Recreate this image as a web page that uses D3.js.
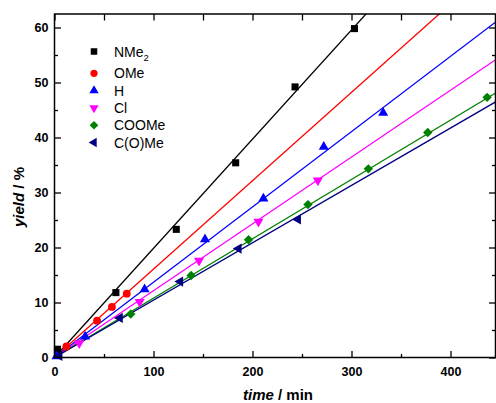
<!DOCTYPE html>
<html>
<head>
<meta charset="utf-8">
<script src="https://cdn.jsdelivr.net/npm/d3@7"></script>
<style>
  body { margin: 0; background: #fff; }
  svg { display: block; font-family: "Liberation Sans", Arial, sans-serif; }
  .axis text { font-size: 12.5px; font-weight: bold; fill: #000; }
  .axis line { stroke: #000; stroke-width: 1.3; }
  .axis path { display: none; }
</style>
</head>
<body>
<svg id="chart"></svg>
<script>
// substituents, in legend order
const series = ["NMe2", "OMe", "H", "Cl", "COOMe", "C(O)Me"]
const colors = ["#000000", "#ff0000", "#0000ff", "#ff00ff", "#008000", "#000080"]

// time / min and yield / %
const timeNMe2 = [3, 62, 123, 183, 243, 303]
const yieldNMe2 = [1.5, 11.8, 23.3, 35.4, 49.2, 59.8]
const timeOMe = [12, 43, 58, 73]
const yieldOMe = [2.0, 6.7, 9.2, 11.6]
const timeH = [2, 31, 91, 152, 211, 272, 332]
const yieldH = [0.2, 3.8, 12.4, 21.5, 28.9, 38.3, 44.5]
const timeCl = [25, 86, 146, 206, 266]
const yieldCl = [2.6, 10.1, 17.6, 24.7, 32.2]
const timeCOOMe = [77, 138, 196, 256, 317, 377, 437]
const yieldCOOMe = [7.9, 14.9, 21.4, 27.8, 34.3, 40.9, 47.3]
const timeCOMe = [5, 66, 127, 186, 246]
const yieldCOMe = [0.3, 7.2, 13.8, 19.8, 25.1]

// linear fits (yield = slope * time), slopes
const fitSlopes = [0.1985, 0.1607, 0.1369, 0.1215, 0.1079, 0.1043]

const xTicks = [0, 100, 200, 300, 400]
const xMinor = [50, 150, 250, 350]
const yTicks = [0, 10, 20, 30, 40, 50, 60]
const yMinor = [5, 15, 25, 35, 45, 55]

const times = [timeNMe2, timeOMe, timeH, timeCl, timeCOOMe, timeCOMe]
const yields = [yieldNMe2, yieldOMe, yieldH, yieldCl, yieldCOOMe, yieldCOMe]

const W = 496, H = 403
const pLeft = 54.5, pRight = 495.5, pTop = 14, pBottom = 357.5

const svg = d3.select("#chart").attr("width", W).attr("height", H)

const x = d3.scaleLinear().domain([0, 446]).range([pLeft, pLeft + 446 * 0.99])
const y = d3.scaleLinear().domain([0, 62.5]).range([pBottom, pBottom - 62.5 * 5.5])

svg.append("clipPath").attr("id", "plot-clip")
  .append("rect")
    .attr("x", pLeft).attr("y", pTop)
    .attr("width", pRight - pLeft).attr("height", pBottom - pTop)

// axes with inward ticks
const axisB = svg.append("g").attr("class", "axis")
  .attr("transform", `translate(0, ${pBottom})`)
axisB.call(d3.axisBottom(x).tickValues(xTicks).tickSizeInner(-6.5).tickSizeOuter(0).tickPadding(10))
axisB.append("g").call(d3.axisBottom(x).tickValues(xMinor).tickSizeInner(-3.5).tickSizeOuter(0).tickFormat(""))

const axisT = svg.append("g").attr("class", "axis")
  .attr("transform", `translate(0, ${pTop})`)
axisT.call(d3.axisTop(x).tickValues(xTicks.concat(xMinor)).tickSizeInner(-6.5).tickSizeOuter(0).tickFormat(""))

const axisL = svg.append("g").attr("class", "axis")
  .attr("transform", `translate(${pLeft}, 0)`)
axisL.call(d3.axisLeft(y).tickValues(yTicks).tickSizeInner(-6.5).tickSizeOuter(0).tickPadding(6))
axisL.append("g").call(d3.axisLeft(y).tickValues(yMinor).tickSizeInner(-3.5).tickSizeOuter(0).tickFormat(""))

const axisR = svg.append("g").attr("class", "axis")
  .attr("transform", `translate(${pRight}, 0)`)
axisR.call(d3.axisRight(y).tickValues(yTicks).tickSizeInner(-6.5).tickSizeOuter(0).tickFormat(""))
axisR.append("g").call(d3.axisRight(y).tickValues(yMinor).tickSizeInner(-3.5).tickSizeOuter(0).tickFormat(""))

// fit lines
const fits = svg.append("g").attr("clip-path", "url(#plot-clip)")
fitSlopes.forEach((s, i) => {
  const ends = [0, 446].map(t => [x(t), y(s * t)])
  fits.append("path")
    .attr("d", d3.line()(ends))
    .attr("fill", "none")
    .attr("stroke", colors[i])
    .attr("stroke-width", 1.3)
})

// marker shapes
const shapes = [
  { type: d3.symbolSquare, size: 50, rot: 0 },
  { type: d3.symbolCircle, size: 48, rot: 0 },
  { type: d3.symbolTriangle, size: 44, rot: 0 },
  { type: d3.symbolTriangle, size: 44, rot: 180 },
  { type: d3.symbolSquare, size: 44, rot: 45 },
  { type: d3.symbolTriangle, size: 44, rot: -90 }
]

const pts = svg.append("g")
series.forEach((name, i) => {
  const data = times[i].map((t, j) => [t, yields[i][j]])
  pts.selectAll(`.pt-${i}`)
    .data(data)
    .join("path")
      .attr("class", `pt-${i}`)
      .attr("d", d3.symbol().type(shapes[i].type).size(shapes[i].size))
      .attr("transform", d => `translate(${x(d[0])}, ${y(d[1])}) rotate(${shapes[i].rot})`)
      .attr("fill", colors[i])
})

// frame
svg.append("rect")
  .attr("x", pLeft).attr("y", pTop)
  .attr("width", pRight - pLeft).attr("height", pBottom - pTop)
  .attr("fill", "none").attr("stroke", "#000").attr("stroke-width", 1.5)

// legend
const legend = svg.append("g")
series.forEach((name, i) => {
  const ly = i === 0 ? 51.5 : 73.3 + (i - 1) * 17.3
  const sh = shapes[i]
  legend.append("path")
    .attr("d", d3.symbol().type(sh.type).size(sh.size * 0.85))
    .attr("transform", `translate(94, ${ly}) rotate(${sh.rot})`)
    .attr("fill", colors[i])
  const txt = legend.append("text")
    .attr("x", 114).attr("y", ly).attr("dy", "0.36em")
    .attr("font-size", 14)
  if (name === "NMe2") {
    txt.append("tspan").text("NMe")
    txt.append("tspan").attr("font-size", 9.5).attr("dy", 4.5).text("2")
  } else {
    txt.text(name)
  }
})

// axis titles
const xTitle = svg.append("text")
  .attr("x", 278).attr("y", 400)
  .attr("text-anchor", "middle")
  .attr("font-size", 15).attr("font-weight", "bold")
xTitle.append("tspan").attr("font-style", "italic").text("time")
xTitle.append("tspan").text(" / min")

const yTitle = svg.append("text")
  .attr("transform", "translate(24, 197) rotate(-90)")
  .attr("text-anchor", "middle")
  .attr("font-size", 15).attr("font-weight", "bold")
yTitle.append("tspan").attr("font-style", "italic").text("yield")
yTitle.append("tspan").text(" / %")
</script>
</body>
</html>
